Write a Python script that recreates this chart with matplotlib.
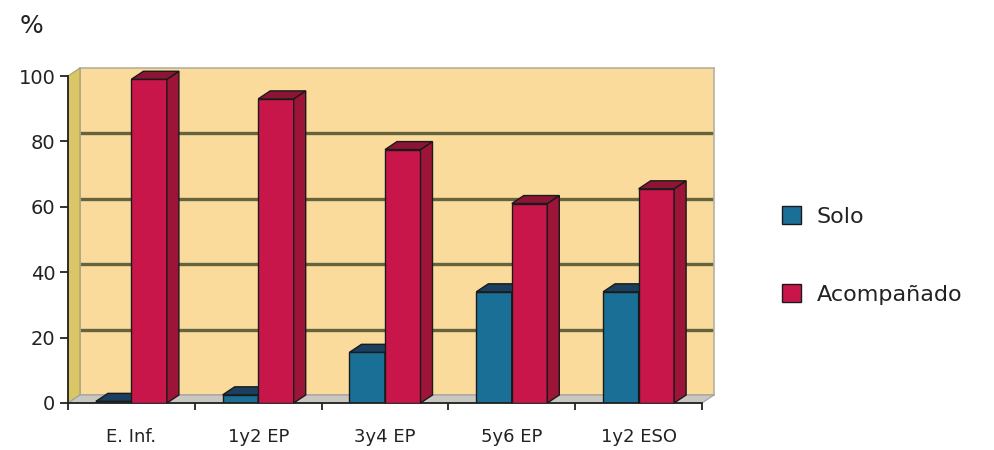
import matplotlib
matplotlib.use("Agg")
import matplotlib.pyplot as plt
from matplotlib.patches import Polygon, Patch
import numpy as np

categories = ["E. Inf.", "1y2 EP", "3y4 EP", "5y6 EP", "1y2 ESO"]
solo = [0.5, 2.5, 15.5, 34, 34]
acompanado = [99, 93, 77.5, 61, 65.5]
series_names = ["Solo", "Acompañado"]
yticks = [0, 20, 40, 60, 80, 100]

W, H = 994, 450
fig = plt.figure(figsize=(W / 100, H / 100), dpi=100)
fig.patch.set_facecolor("white")

# geometry in pixels
fl, fr, fb, ft = 68, 702, 403, 76   # front plane of plot
dxp, dyp = 12, 8                     # depth offset

def fx(p):
    return p / W

def fy(p):
    return 1 - p / H

front_pos = [fx(fl), fy(fb), fx(fr - fl), (fb - ft) / H]
back_pos = [fx(fl + dxp), fy(fb - dyp), fx(fr - fl), (fb - ft) / H]

# back wall
axb = fig.add_axes(back_pos, zorder=0)
axb.set_facecolor("#fadb9c")
axb.set_xlim(-0.5, len(categories) - 0.5)
axb.set_ylim(0, 100)
axb.set_xticks([])
axb.set_yticks(yticks[1:-1])
axb.tick_params(left=False, labelleft=False)
axb.grid(axis="y", color="#66633f", lw=2.4)
for s in axb.spines.values():
    s.set_color("#b5b0a0")
    s.set_linewidth(1.2)

# left wall and floor
lw_poly = Polygon([(fx(fl), fy(fb)), (fx(fl), fy(ft)), (fx(fl + dxp), fy(ft - dyp)),
                   (fx(fl + dxp), fy(fb - dyp))], closed=True, transform=fig.transFigure,
                  facecolor="#d9c666", edgecolor="#a89e70", lw=0.8, zorder=0.5)
floor_poly = Polygon([(fx(fl), fy(fb)), (fx(fr), fy(fb)), (fx(fr + dxp), fy(fb - dyp)),
                      (fx(fl + dxp), fy(fb - dyp))], closed=True, transform=fig.transFigure,
                     facecolor="#c9c7c0", edgecolor="#a0a0a0", lw=0.8, zorder=0.5)
fig.patches.extend([lw_poly, floor_poly])

# front axes with bars
ax = fig.add_axes(front_pos, zorder=1)
ax.set_facecolor("none")
ax.set_xlim(-0.5, len(categories) - 0.5)
ax.set_ylim(0, 100)

x = np.arange(len(categories))
w = 0.28
ppx = (fr - fl) / (len(categories))
ppy = (fb - ft) / 100.0
ddx = dxp / ppx
ddy = dyp / ppy

colors = [("#1a6f96", "#1b3f5e", "#174e6c"), ("#c8164b", "#8c1434", "#9c1539")]
for si, (vals, (cf, ct, cs)) in enumerate(zip([solo, acompanado], colors)):
    xs = x - w / 2 + si * w
    for xi, v in zip(xs, vals):
        x0, x1 = xi - w / 2, xi + w / 2
        ax.bar(xi, v, w, color=cf, edgecolor="#1a1a1a", lw=1.0, zorder=2 + si * 3)
        top = Polygon([(x0, v), (x1, v), (x1 + ddx, v + ddy), (x0 + ddx, v + ddy)],
                      closed=True, facecolor=ct, edgecolor="#1a1a1a", lw=1.0,
                      zorder=3 + si * 3, clip_on=False)
        side = Polygon([(x1, 0), (x1, v), (x1 + ddx, v + ddy), (x1 + ddx, ddy)],
                       closed=True, facecolor=cs, edgecolor="#1a1a1a", lw=1.0,
                       zorder=3 + si * 3, clip_on=False)
        ax.add_patch(side)
        ax.add_patch(top)

for s in ["top", "right"]:
    ax.spines[s].set_visible(False)
ax.spines["left"].set_color("#222222")
ax.spines["bottom"].set_color("#222222")
ax.spines["left"].set_linewidth(1.3)
ax.spines["bottom"].set_linewidth(1.3)
ax.set_yticks(yticks)
ax.set_yticklabels([str(t) for t in yticks])
ax.tick_params(axis="y", length=6, width=1.3, color="#222222", labelsize=14,
               labelcolor="#222222", pad=3)
ax.set_xticks(x)
ax.set_xticklabels(categories)
ax.tick_params(axis="x", length=0, labelsize=13, labelcolor="#222222", pad=18)
ax.set_xticks(np.arange(len(categories) + 1) - 0.5, minor=True)
ax.tick_params(axis="x", which="minor", length=5, width=1.3, color="#222222")

fig.text(fx(20), fy(26), "%", fontsize=18, color="#222222", va="center", ha="left")

handles = [Patch(facecolor=colors[0][0], edgecolor="#1a1a1a"),
           Patch(facecolor=colors[1][0], edgecolor="#1a1a1a")]
fig.legend(handles, series_names, loc="upper left", bbox_to_anchor=(fx(762), fy(186)),
           frameon=False, fontsize=16, handlelength=0.85, handleheight=0.85,
           labelspacing=2.6, handletextpad=0.7, labelcolor="#222222")

fig.savefig("out.png", dpi=100)
